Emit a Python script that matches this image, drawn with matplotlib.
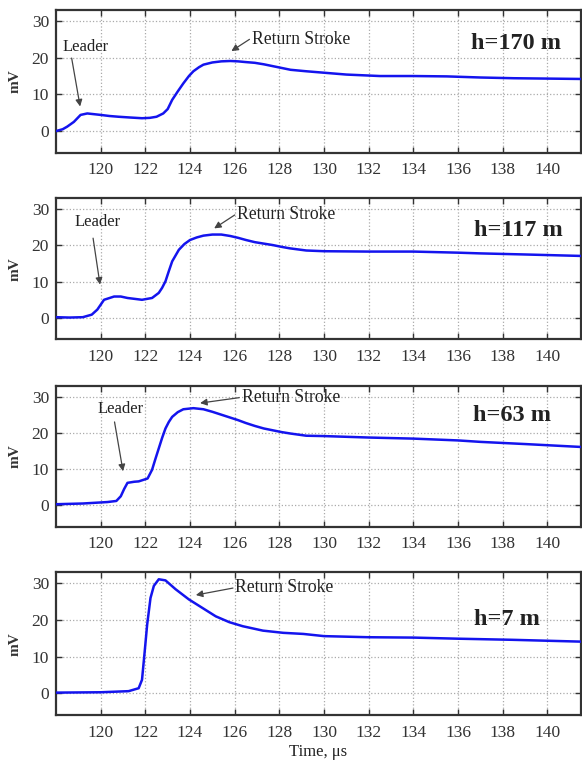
import matplotlib
matplotlib.use("Agg")
import matplotlib.pyplot as plt

# ---------------- data ----------------
t_170 = [118.0, 118.3, 118.5, 118.8, 119.1, 119.4, 119.7, 120.0, 120.4, 120.8, 121.3, 121.85,
         122.2, 122.5, 122.8, 123.0, 123.2, 123.45, 123.7, 123.95, 124.15, 124.4, 124.6, 125.0,
         125.4, 125.8, 126.15, 126.5, 126.9, 127.3, 127.7, 128.1, 128.5, 129.2, 130.0, 131.0,
         132.5, 134.0, 135.5, 137.0, 138.5, 140.0, 141.5]
v_170 = [0.0, 0.5, 1.2, 2.5, 4.4, 4.8, 4.6, 4.4, 4.1, 3.9, 3.7, 3.5,
         3.6, 3.9, 4.8, 6.0, 8.5, 10.8, 13.0, 15.0, 16.3, 17.4, 18.1, 18.7,
         19.0, 19.1, 19.0, 18.8, 18.6, 18.2, 17.7, 17.2, 16.7, 16.3, 15.9, 15.4,
         15.0, 15.0, 14.9, 14.6, 14.4, 14.3, 14.2]

t_117 = [118.0, 118.6, 119.2, 119.6, 119.85, 120.15, 120.6, 120.9, 121.2, 121.85, 122.3, 122.6,
         122.75, 122.9, 123.05, 123.2, 123.5, 123.75, 124.0, 124.3, 124.6, 125.0, 125.4, 125.8,
         126.15, 126.5, 126.9, 127.3, 127.7, 128.1, 128.46, 129.2, 130.0, 132.0, 134.0, 136.0,
         137.0, 139.0, 141.5]
v_117 = [0.2, 0.1, 0.2, 0.9, 2.3, 5.0, 5.9, 5.9, 5.5, 5.0, 5.5, 6.9,
         8.3, 10.1, 12.9, 15.6, 18.8, 20.4, 21.5, 22.2, 22.7, 23.0, 23.0, 22.6,
         22.1, 21.5, 20.9, 20.5, 20.1, 19.6, 19.2, 18.6, 18.4, 18.3, 18.3, 18.0,
         17.8, 17.5, 17.1]

t_63 = [118.0, 119.2, 120.3, 120.7, 120.9, 121.05, 121.2, 121.5, 121.7, 122.1, 122.3, 122.45,
        122.6, 122.75, 122.9, 123.05, 123.2, 123.45, 123.7, 124.15, 124.6, 125.0, 125.4, 125.8,
        126.15, 126.5, 126.9, 127.3, 127.7, 128.1, 128.5, 129.2, 130.0, 132.0, 134.0, 136.0,
        137.0, 139.0, 141.5]
v_63 = [0.3, 0.5, 0.9, 1.2, 2.5, 4.5, 6.2, 6.5, 6.6, 7.4, 9.8, 12.8,
        15.7, 18.6, 21.2, 23.0, 24.4, 25.7, 26.5, 26.8, 26.5, 25.8, 25.0, 24.2,
        23.5, 22.7, 21.9, 21.2, 20.7, 20.2, 19.8, 19.2, 19.1, 18.7, 18.4, 17.9,
        17.5, 16.9, 16.1]

t_7 = [118.0, 120.0, 121.25, 121.7, 121.85, 121.97, 122.08, 122.23, 122.38, 122.6, 122.9, 123.35,
       123.95, 124.55, 125.15, 125.76, 126.36, 127.26, 128.17, 129.07, 130.0, 132.0, 134.0, 136.0,
       138.4, 141.5]
v_7 = [0.2, 0.3, 0.6, 1.4, 3.7, 11.4, 18.7, 26.0, 29.3, 31.1, 30.8, 28.4,
       25.6, 23.3, 21.0, 19.4, 18.3, 17.1, 16.5, 16.2, 15.6, 15.3, 15.2, 14.9,
       14.6, 14.1]

height_labels = ["h=170 m", "h=117 m", "h=63 m", "h=7 m"]
x_ticks = [120, 122, 124, 126, 128, 130, 132, 134, 136, 138, 140]
y_ticks = [0, 10, 20, 30]
leader_label = "Leader"
return_label = "Return Stroke"
x_label = "Time, \u03bcs"
y_label = "mV"

# ---------------- layout / style ----------------
plt.rcParams['font.family'] = ['Liberation Serif', 'DejaVu Serif']
fig = plt.figure(figsize=(5.82, 7.6), dpi=100)

left = 56 / 582
width = (581 - 56) / 582
panels = [(10, 152.7), (198.3, 339.3), (385.7, 526.7), (572.3, 715.0)]

series = [(t_170, v_170), (t_117, v_117), (t_63, v_63), (t_7, v_7)]

# annotation geometry (data coords)
leader_geo = [
    ((118.3, 22.9), (118.7, 19.9), (119.08, 6.7)),
    ((118.85, 26.5), (119.66, 22.0), (119.97, 9.2)),
    ((119.85, 26.6), (120.62, 23.0), (121.0, 9.4)),
    None,
]
return_geo = [
    ((126.76, 25.0), (126.66, 25.0), (125.85, 21.8)),
    ((126.09, 28.5), (126.0, 28.4), (125.08, 24.7)),
    ((126.31, 29.8), (126.2, 29.7), (124.45, 28.2)),
    ((126.01, 28.8), (125.92, 28.7), (124.26, 26.8)),
]
h_pos = [(138.6, 23.9), (138.7, 24.1), (138.4, 24.7), (138.2, 20.0)]

spine_col = '#333333'
line_col = '#1414ee'
arrow_col = '#444444'

axes = []
for i, (top, bot) in enumerate(panels):
    ax = fig.add_axes([left, 1 - bot / 760, width, (bot - top) / 760])
    axes.append(ax)
    t, v = series[i]
    ax.plot(t, v, color=line_col, lw=1.8, zorder=3)
    ax.set_xlim(118.0, 141.5)
    ax.set_ylim(-5.9, 33.0)
    ax.set_xticks(x_ticks)
    ax.set_yticks(y_ticks)
    ax.grid(True, color='#aaaaaa', linestyle=':', linewidth=0.9)
    ax.tick_params(direction='in', length=4, width=1.0, top=True, right=True,
                   labelsize=12.5, labelcolor='#333333', color=spine_col)
    ax.tick_params(axis='x', pad=7)
    ax.tick_params(axis='y', pad=5)
    for s in ax.spines.values():
        s.set_linewidth(1.6)
        s.set_color(spine_col)
    ax.set_ylabel(y_label, fontsize=11, fontweight='bold', color='#333333')
    ax.yaxis.set_label_coords(-0.065, 0.5)

    if leader_geo[i] is not None:
        (tx, ty), tail, head = leader_geo[i]
        ax.text(tx, ty, leader_label, fontsize=12, color='#222222', va='center', ha='left')
        ax.annotate('', xy=head, xytext=tail,
                    arrowprops=dict(arrowstyle='-|>', color=arrow_col, lw=0.9,
                                    mutation_scale=10, shrinkA=0, shrinkB=0))
    (tx, ty), tail, head = return_geo[i]
    ax.text(tx, ty, return_label, fontsize=12.7, color='#222222', va='center', ha='left')
    ax.annotate('', xy=head, xytext=tail,
                arrowprops=dict(arrowstyle='-|>', color=arrow_col, lw=0.9,
                                mutation_scale=10, shrinkA=0, shrinkB=0))
    hx, hy = h_pos[i]
    ax.text(hx, hy, height_labels[i], fontsize=17.5, fontweight='bold', color='#222222',
            ha='center', va='center')

axes[-1].set_xlabel(x_label, fontsize=12, color='#222222', labelpad=2)

fig.savefig("out.png", dpi=100)
